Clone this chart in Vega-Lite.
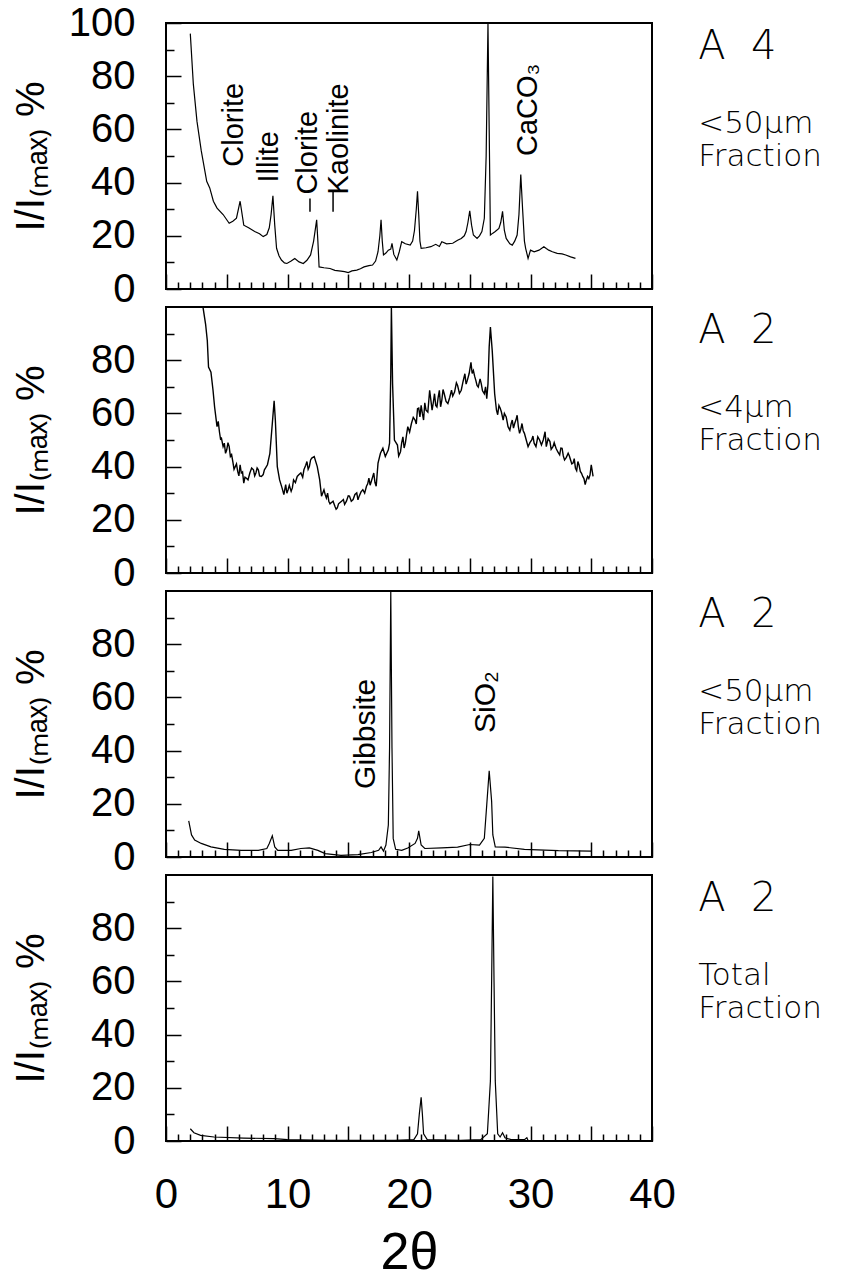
{
"$schema": "https://vega.github.io/schema/vega-lite/v6.json",
"padding": {"left": 10, "top": 2, "right": 5, "bottom": 5},
"background": "white",
"bounds": "flush",
"spacing": 18,
"config": {
  "view": {"stroke": "black", "strokeWidth": 2},
  "axis": {"domain": false, "grid": false, "tickColor": "black", "tickWidth": 1.5, "labelColor": "black", "titleColor": "black", "labelFont": "Liberation Sans", "titleFont": "Liberation Sans", "labelFontWeight": "normal", "titleFontWeight": "normal", "labelOverlap": false, "labelFlush": false, "labelBound": false},
  "text": {"font": "Liberation Sans", "color": "black"}
},
"datasets": {
  "p1": [{"t":2.0,"v":96},{"t":2.25,"v":77},{"t":2.55,"v":63},{"t":2.9,"v":52},{"t":3.35,"v":40.5},{"t":3.6,"v":38},{"t":3.9,"v":33},{"t":4.2,"v":30.4},{"t":4.7,"v":28},{"t":5.2,"v":24.7},{"t":5.5,"v":25.5},{"t":5.8,"v":26.6},{"t":6.1,"v":33},{"t":6.4,"v":24},{"t":6.8,"v":23},{"t":7.3,"v":21.6},{"t":7.7,"v":20.8},{"t":8.0,"v":19.7},{"t":8.3,"v":20.5},{"t":8.5,"v":23},{"t":8.65,"v":28},{"t":8.8,"v":35},{"t":8.95,"v":24},{"t":9.1,"v":15.3},{"t":9.3,"v":12.5},{"t":9.5,"v":10.9},{"t":9.75,"v":9.8},{"t":9.95,"v":9.6},{"t":10.3,"v":10.5},{"t":10.6,"v":11.5},{"t":10.95,"v":10.2},{"t":11.3,"v":9.6},{"t":11.6,"v":10.8},{"t":11.9,"v":12.8},{"t":12.15,"v":18},{"t":12.4,"v":26},{"t":12.5,"v":18},{"t":12.6,"v":8.3},{"t":13.0,"v":8},{"t":13.5,"v":7.7},{"t":13.9,"v":7},{"t":14.4,"v":6.7},{"t":14.7,"v":6.5},{"t":15.0,"v":6.2},{"t":15.3,"v":6.8},{"t":15.7,"v":7.1},{"t":16.0,"v":7.6},{"t":16.3,"v":8.3},{"t":16.7,"v":8.8},{"t":17.0,"v":9},{"t":17.25,"v":10.5},{"t":17.45,"v":14},{"t":17.6,"v":20},{"t":17.7,"v":26},{"t":17.8,"v":18},{"t":17.9,"v":12.8},{"t":18.1,"v":13.5},{"t":18.3,"v":14.6},{"t":18.5,"v":15},{"t":18.6,"v":17.2},{"t":18.75,"v":13},{"t":19.0,"v":10.9},{"t":19.2,"v":14},{"t":19.4,"v":17.8},{"t":19.7,"v":17},{"t":20.1,"v":16.5},{"t":20.3,"v":18},{"t":20.45,"v":22},{"t":20.6,"v":30},{"t":20.7,"v":36.7},{"t":20.8,"v":28},{"t":20.9,"v":18},{"t":21.0,"v":15.3},{"t":21.4,"v":15.5},{"t":21.8,"v":15.9},{"t":22.2,"v":16.8},{"t":22.5,"v":16},{"t":22.7,"v":17.8},{"t":23.1,"v":17},{"t":23.6,"v":17.2},{"t":24.0,"v":18.3},{"t":24.3,"v":19},{"t":24.55,"v":20},{"t":24.7,"v":21.6},{"t":24.85,"v":25},{"t":25.0,"v":29.4},{"t":25.15,"v":24},{"t":25.3,"v":20.3},{"t":25.6,"v":19},{"t":25.8,"v":20},{"t":26.0,"v":21.6},{"t":26.2,"v":26.6},{"t":26.35,"v":50},{"t":26.5,"v":100},{"t":26.6,"v":60},{"t":26.7,"v":20.3},{"t":26.9,"v":21},{"t":27.1,"v":21.6},{"t":27.4,"v":22.8},{"t":27.55,"v":25},{"t":27.7,"v":29.2},{"t":27.85,"v":22},{"t":28.0,"v":19},{"t":28.3,"v":17},{"t":28.5,"v":16.5},{"t":28.7,"v":18},{"t":28.9,"v":20.3},{"t":29.05,"v":28},{"t":29.2,"v":43},{"t":29.35,"v":30},{"t":29.5,"v":18},{"t":29.6,"v":15.3},{"t":29.8,"v":11.5},{"t":30.0,"v":14.6},{"t":30.3,"v":14},{"t":30.7,"v":14.6},{"t":31.1,"v":15.9},{"t":31.3,"v":15.2},{"t":31.5,"v":14.6},{"t":31.8,"v":14},{"t":32.2,"v":13.4},{"t":32.6,"v":13.2},{"t":32.9,"v":12.8},{"t":33.3,"v":12.1},{"t":33.7,"v":11.5}],
  "p2": [{"t":3.05,"v":99.8},{"t":3.26,"v":93.5},{"t":3.4,"v":87.3},{"t":3.5,"v":77.4},{"t":3.7,"v":75.5},{"t":3.87,"v":68.7},{"t":4.0,"v":62.4},{"t":4.2,"v":55},{"t":4.4,"v":53},{"t":4.55,"v":51},{"t":4.7,"v":47.5},{"t":4.8,"v":48.8},{"t":5.0,"v":46.3},{"t":5.2,"v":47.5},{"t":5.3,"v":43.8},{"t":5.5,"v":41.9},{"t":5.7,"v":40},{"t":5.9,"v":38.2},{"t":6.1,"v":40.7},{"t":6.2,"v":37.6},{"t":6.4,"v":33.8},{"t":6.6,"v":35.7},{"t":6.9,"v":37.6},{"t":7.2,"v":38.8},{"t":7.4,"v":37.6},{"t":7.6,"v":38.8},{"t":7.85,"v":36.3},{"t":8.1,"v":38.8},{"t":8.35,"v":40.7},{"t":8.55,"v":45},{"t":8.75,"v":56.2},{"t":8.9,"v":64.7},{"t":9.0,"v":57.5},{"t":9.16,"v":40},{"t":9.35,"v":35},{"t":9.55,"v":32},{"t":9.7,"v":29.5},{"t":9.85,"v":33.2},{"t":10.05,"v":31.3},{"t":10.3,"v":30.7},{"t":10.5,"v":35},{"t":10.8,"v":36.3},{"t":11.1,"v":37.6},{"t":11.35,"v":38.8},{"t":11.6,"v":41.9},{"t":11.8,"v":40},{"t":12.0,"v":43.2},{"t":12.2,"v":43.8},{"t":12.45,"v":40},{"t":12.65,"v":35},{"t":12.8,"v":28.9},{"t":13.0,"v":31.3},{"t":13.2,"v":28.2},{"t":13.4,"v":27},{"t":13.6,"v":26.4},{"t":13.9,"v":25.1},{"t":14.1,"v":24.5},{"t":14.3,"v":26.4},{"t":14.6,"v":27.6},{"t":14.85,"v":27},{"t":15.1,"v":28.9},{"t":15.4,"v":27.6},{"t":15.7,"v":30.1},{"t":15.9,"v":28.9},{"t":16.2,"v":31.3},{"t":16.5,"v":32.6},{"t":16.7,"v":35.7},{"t":16.9,"v":34.5},{"t":17.1,"v":37.6},{"t":17.3,"v":32.6},{"t":17.45,"v":41.3},{"t":17.65,"v":45},{"t":17.85,"v":46.9},{"t":18.05,"v":43.8},{"t":18.3,"v":46.3},{"t":18.4,"v":48.8},{"t":18.5,"v":75},{"t":18.55,"v":100},{"t":18.65,"v":71},{"t":18.8,"v":50},{"t":19.05,"v":48.1},{"t":19.3,"v":45.6},{"t":19.5,"v":51.2},{"t":19.7,"v":48.8},{"t":19.9,"v":55},{"t":20.2,"v":56.2},{"t":20.5,"v":57.5},{"t":20.7,"v":61.8},{"t":20.9,"v":58.7},{"t":21.0,"v":63},{"t":21.2,"v":57.5},{"t":21.4,"v":61.2},{"t":21.7,"v":68.7},{"t":21.9,"v":61.2},{"t":22.1,"v":67.4},{"t":22.3,"v":62.4},{"t":22.5,"v":68.7},{"t":22.7,"v":64.9},{"t":22.9,"v":67.4},{"t":23.2,"v":63.7},{"t":23.5,"v":68.7},{"t":23.75,"v":68},{"t":24.0,"v":70.5},{"t":24.3,"v":68.7},{"t":24.6,"v":74.9},{"t":24.8,"v":72.4},{"t":25.1,"v":79.2},{"t":25.3,"v":76.1},{"t":25.5,"v":72.4},{"t":25.7,"v":69.9},{"t":25.95,"v":71.1},{"t":26.2,"v":67.4},{"t":26.4,"v":65.5},{"t":26.5,"v":71.1},{"t":26.6,"v":85},{"t":26.7,"v":92.5},{"t":26.85,"v":83.6},{"t":27.05,"v":67.4},{"t":27.2,"v":61.2},{"t":27.4,"v":63},{"t":27.6,"v":60.6},{"t":27.75,"v":57.5},{"t":28.0,"v":58.7},{"t":28.3,"v":53.7},{"t":28.5,"v":57.5},{"t":28.7,"v":56.2},{"t":28.9,"v":59.3},{"t":29.1,"v":52.5},{"t":29.3,"v":56.2},{"t":29.5,"v":52.5},{"t":29.8,"v":47.5},{"t":30.1,"v":50},{"t":30.3,"v":48.8},{"t":30.6,"v":51.2},{"t":30.9,"v":48.1},{"t":31.2,"v":53.1},{"t":31.3,"v":47.5},{"t":31.6,"v":49.4},{"t":31.85,"v":47.5},{"t":32.1,"v":46.9},{"t":32.4,"v":44.4},{"t":32.6,"v":46.9},{"t":32.8,"v":42.5},{"t":33.1,"v":45},{"t":33.3,"v":42.5},{"t":33.5,"v":41.3},{"t":33.7,"v":39.4},{"t":33.9,"v":41.9},{"t":34.1,"v":38.2},{"t":34.3,"v":36.3},{"t":34.5,"v":33.2},{"t":34.7,"v":36.3},{"t":34.9,"v":36.9},{"t":35.0,"v":40.7},{"t":35.15,"v":36.3},
    {"t":4.3,"v":57},{"t":4.5,"v":50},{"t":4.9,"v":45},{"t":5.1,"v":49},{"t":5.4,"v":44.5},{"t":5.6,"v":39},{"t":5.8,"v":41},{"t":6.0,"v":36.5},{"t":6.3,"v":38},{"t":6.5,"v":36},{"t":6.75,"v":35},{"t":7.05,"v":39.5},{"t":7.3,"v":36.5},{"t":7.5,"v":39.5},{"t":7.7,"v":36.5},{"t":8.0,"v":37},{"t":8.2,"v":39.5},
    {"t":9.95,"v":30},{"t":10.15,"v":33},{"t":10.4,"v":32},{"t":10.65,"v":34},{"t":10.95,"v":37},{"t":11.25,"v":36},{"t":11.5,"v":40.5},{"t":11.7,"v":39},{"t":11.9,"v":42.5},{"t":13.1,"v":29.5},{"t":13.3,"v":30},{"t":13.5,"v":26},{"t":13.75,"v":27},{"t":14.0,"v":24},{"t":14.2,"v":26},{"t":14.45,"v":27},{"t":14.7,"v":25.8},{"t":15.0,"v":29},{"t":15.25,"v":27},{"t":15.55,"v":29.5},{"t":15.8,"v":27.5},{"t":16.05,"v":30.5},{"t":16.35,"v":30},{"t":16.6,"v":33.5},{"t":16.8,"v":33},{"t":17.0,"v":36},{"t":17.2,"v":34},
    {"t":19.15,"v":44},{"t":19.4,"v":49},{"t":19.6,"v":47},{"t":19.8,"v":52},{"t":20.05,"v":53},{"t":20.35,"v":58.5},{"t":20.6,"v":56},{"t":20.8,"v":62},{"t":21.1,"v":60},{"t":21.3,"v":64},{"t":21.55,"v":60.5},{"t":21.8,"v":65},{"t":22.0,"v":64},{"t":22.2,"v":63},{"t":22.4,"v":66},{"t":22.6,"v":62.5},{"t":22.8,"v":69},{"t":23.05,"v":64.5},{"t":23.35,"v":66},{"t":23.6,"v":66.5},{"t":23.9,"v":71.5},{"t":24.15,"v":67.5},{"t":24.45,"v":72},{"t":24.7,"v":71},{"t":24.95,"v":75},{"t":25.2,"v":75},{"t":25.4,"v":74},{"t":25.6,"v":70.5},{"t":25.85,"v":73},{"t":26.05,"v":68.5},{"t":26.3,"v":70},{"t":27.3,"v":59.5},{"t":27.5,"v":62},{"t":27.85,"v":60},{"t":28.15,"v":55},{"t":28.4,"v":56},{"t":28.6,"v":54.5},{"t":28.8,"v":57.5},{"t":29.0,"v":55},{"t":29.2,"v":54},{"t":29.4,"v":53.5},{"t":29.65,"v":50},{"t":29.95,"v":49},{"t":30.2,"v":51.5},{"t":30.45,"v":47.5},{"t":30.75,"v":50},{"t":31.05,"v":50},{"t":31.45,"v":50.5},{"t":31.7,"v":46.5},{"t":31.95,"v":49},{"t":32.25,"v":45.5},{"t":32.5,"v":47},{"t":32.7,"v":44},{"t":32.95,"v":43.5},{"t":33.2,"v":44},{"t":33.4,"v":41},{"t":33.6,"v":43},{"t":33.8,"v":38.5},{"t":34.0,"v":40.5},{"t":34.2,"v":37.5},{"t":34.4,"v":35.5},{"t":34.6,"v":35},{"t":34.8,"v":35.5}],
  "p3": [{"t":1.87,"v":13.6},{"t":2.1,"v":8.3},{"t":2.36,"v":6.4},{"t":2.9,"v":5.1},{"t":3.7,"v":3.8},{"t":4.8,"v":2.9},{"t":6.2,"v":2.5},{"t":7.6,"v":2.5},{"t":8.3,"v":3.2},{"t":8.5,"v":5.1},{"t":8.75,"v":8.0},{"t":8.95,"v":3.8},{"t":9.2,"v":2.5},{"t":10.3,"v":2.5},{"t":11.1,"v":3.2},{"t":11.8,"v":3.4},{"t":12.5,"v":2.5},{"t":13.1,"v":1.3},{"t":14.4,"v":0.6},{"t":15.8,"v":0.9},{"t":16.9,"v":1.7},{"t":17.5,"v":2.5},{"t":17.7,"v":3.8},{"t":17.9,"v":2.2},{"t":18.1,"v":4.5},{"t":18.3,"v":12},{"t":18.4,"v":41},{"t":18.5,"v":100},{"t":18.6,"v":41},{"t":18.7,"v":7},{"t":18.9,"v":2.9},{"t":19.4,"v":2.5},{"t":19.9,"v":3.4},{"t":20.5,"v":5.1},{"t":20.7,"v":7},{"t":20.8,"v":9.8},{"t":21.0,"v":4.5},{"t":21.3,"v":3.2},{"t":22.7,"v":3.4},{"t":24.0,"v":3.7},{"t":25.0,"v":4.7},{"t":25.8,"v":4.5},{"t":26.2,"v":7},{"t":26.4,"v":19.7},{"t":26.6,"v":32.4},{"t":26.8,"v":21},{"t":26.9,"v":8.3},{"t":27.1,"v":3.8},{"t":27.9,"v":3.7},{"t":29.5,"v":2.9},{"t":32.3,"v":2.4},{"t":35.0,"v":2.2}],
  "p4": [{"t":2.0,"v":4.6},{"t":2.3,"v":3.1},{"t":2.85,"v":2.1},{"t":3.95,"v":1.5},{"t":6.4,"v":1.1},{"t":8.9,"v":0.9},{"t":10,"v":0.5},{"t":13.3,"v":0.2},{"t":18.8,"v":0.2},{"t":20.4,"v":0.5},{"t":20.7,"v":2.7},{"t":20.85,"v":10.2},{"t":21.0,"v":16.4},{"t":21.1,"v":10.2},{"t":21.2,"v":2.7},{"t":21.5,"v":0.5},{"t":24.25,"v":0.2},{"t":25.9,"v":0.5},{"t":26.45,"v":2.7},{"t":26.7,"v":22.6},{"t":26.8,"v":59.7},{"t":26.9,"v":99.4},{"t":27.0,"v":59.7},{"t":27.1,"v":22.6},{"t":27.3,"v":2.7},{"t":27.5,"v":1.5},{"t":27.7,"v":3.1},{"t":27.9,"v":1.2},{"t":28.4,"v":0.5},{"t":29.5,"v":0.5},{"t":29.7,"v":1.2},{"t":29.8,"v":0.2},{"t":31.1,"v":0.1},{"t":35,"v":0.1}],
  "labels": [
    {"panel":1,"role":"id","t":43.8,"v":91,"label":"A\u00a0\u00a04"},
    {"panel":1,"role":"frac","t":43.8,"v":62,"label":"<50μm"},
    {"panel":1,"role":"frac","t":43.8,"v":49.5,"label":"Fraction"},
    {"panel":1,"role":"mineral","t":5.6,"v":46,"label":"Clorite"},
    {"panel":1,"role":"mineral","t":8.5,"v":40,"label":"Illite"},
    {"panel":1,"role":"mineral","t":11.7,"v":35.5,"label":"Clorite"},
    {"panel":1,"role":"mineral","t":14.2,"v":35.5,"label":"Kaolinite"},
    {"panel":1,"role":"mineral","t":29.8,"v":50,"label":"CaCO₃"},
    {"panel":2,"role":"id","t":43.8,"v":91,"label":"A\u00a0\u00a02"},
    {"panel":2,"role":"frac","t":43.8,"v":62,"label":"<4μm"},
    {"panel":2,"role":"frac","t":43.8,"v":49.5,"label":"Fraction"},
    {"panel":3,"role":"id","t":43.8,"v":91,"label":"A\u00a0\u00a02"},
    {"panel":3,"role":"frac","t":43.8,"v":62,"label":"<50μm"},
    {"panel":3,"role":"frac","t":43.8,"v":49.5,"label":"Fraction"},
    {"panel":3,"role":"mineral","t":16.5,"v":25.6,"label":"Gibbsite"},
    {"panel":3,"role":"mineral","t":26.3,"v":46.6,"label":"SiO₂"},
    {"panel":4,"role":"id","t":43.8,"v":91,"label":"A\u00a0\u00a02"},
    {"panel":4,"role":"frac","t":43.8,"v":62,"label":"Total"},
    {"panel":4,"role":"frac","t":43.8,"v":49.5,"label":"Fraction"}
  ],
  "pointers": [{"panel":1,"t":11.85,"v":29,"v2":34},{"panel":1,"t":13.75,"v":29,"v2":37}]
},
"vconcat": [
 {"width": 486, "height": 266,
  "resolve": {"axis": {"x": "independent", "y": "independent"}},
  "layer": [
   {"data": {"name": "p1"}, "mark": {"type": "line", "color": "black", "strokeWidth": 1.2, "clip": true},
    "encoding": {
     "x": {"field": "t", "type": "quantitative", "scale": {"domain": [0, 40], "nice": false, "zero": false}, "axis": {"orient": "bottom", "values": [0,5,10,15,20,25,30,35,40], "tickSize": -15, "labels": false, "title": null}},
     "y": {"field": "v", "type": "quantitative", "scale": {"domain": [0, 100], "nice": false}, "axis": {"orient": "left", "values": [0,20,40,60,80,100], "tickSize": -15, "labelFontSize": 40, "labelPadding": 46, "title": "I/I₍ₘₐₓ₎ %", "titleFontSize": 40, "titleX": -135, "titleY": 133, "titleAngle": 270, "titleBaseline": "middle", "titleAlign": "center"}}
    }},
   {"data": {"name": "p1"}, "mark": {"type": "point", "opacity": 0},
    "encoding": {
     "x": {"field": "t", "type": "quantitative", "scale": {"domain": [0, 40], "nice": false, "zero": false}, "axis": {"orient": "bottom", "values": [1,2,3,4,6,7,8,9,11,12,13,14,16,17,18,19,21,22,23,24,26,27,28,29,31,32,33,34,36,37,38,39], "tickSize": -7, "labels": false, "title": null}},
     "y": {"field": "v", "type": "quantitative", "scale": {"domain": [0, 100], "nice": false}, "axis": {"orient": "left", "values": [10,30,50,70,90], "tickSize": -8, "labels": false, "title": null}}
    }},
   {"data": {"name": "pointers"}, "transform": [{"filter": "datum.panel === 1"}], "mark": {"type": "rule", "color": "black", "strokeWidth": 1.5},
    "encoding": {"x": {"field": "t", "type": "quantitative", "axis": null}, "y": {"field": "v", "type": "quantitative", "axis": null}, "y2": {"field": "v2"}}},
   {"data": {"name": "labels"}, "transform": [{"filter": "datum.panel === 1 && datum.role === 'mineral'"}], "mark": {"type": "text", "angle": 270, "align": "left", "baseline": "middle", "fontSize": 29},
    "encoding": {"x": {"field": "t", "type": "quantitative", "axis": null}, "y": {"field": "v", "type": "quantitative", "axis": null}, "text": {"field": "label"}}},
   {"data": {"name": "labels"}, "transform": [{"filter": "datum.panel === 1 && datum.role === 'id'"}], "mark": {"type": "text", "align": "left", "baseline": "middle", "fontSize": 40, "font": "DejaVu Sans", "fontWeight": 200},
    "encoding": {"x": {"field": "t", "type": "quantitative", "axis": null}, "y": {"field": "v", "type": "quantitative", "axis": null}, "text": {"field": "label"}}},
   {"data": {"name": "labels"}, "transform": [{"filter": "datum.panel === 1 && datum.role === 'frac'"}], "mark": {"type": "text", "align": "left", "baseline": "middle", "fontSize": 31, "font": "DejaVu Sans", "fontWeight": 200},
    "encoding": {"x": {"field": "t", "type": "quantitative", "axis": null}, "y": {"field": "v", "type": "quantitative", "axis": null}, "text": {"field": "label"}}}
  ]},
 {"width": 486, "height": 266,
  "resolve": {"axis": {"x": "independent", "y": "independent"}},
  "layer": [
   {"data": {"name": "p2"}, "mark": {"type": "line", "color": "black", "strokeWidth": 1.4, "clip": true},
    "encoding": {
     "x": {"field": "t", "type": "quantitative", "scale": {"domain": [0, 40], "nice": false, "zero": false}, "axis": {"orient": "bottom", "values": [0,5,10,15,20,25,30,35,40], "tickSize": -15, "labels": false, "title": null}},
     "y": {"field": "v", "type": "quantitative", "scale": {"domain": [0, 100], "nice": false}, "axis": {"orient": "left", "values": [0,20,40,60,80], "tickSize": -15, "labelFontSize": 40, "labelPadding": 46, "title": "I/I₍ₘₐₓ₎ %", "titleFontSize": 40, "titleX": -135, "titleY": 133, "titleAngle": 270, "titleBaseline": "middle", "titleAlign": "center"}}
    }},
   {"data": {"name": "p2"}, "mark": {"type": "point", "opacity": 0},
    "encoding": {
     "x": {"field": "t", "type": "quantitative", "scale": {"domain": [0, 40], "nice": false, "zero": false}, "axis": {"orient": "bottom", "values": [1,2,3,4,6,7,8,9,11,12,13,14,16,17,18,19,21,22,23,24,26,27,28,29,31,32,33,34,36,37,38,39], "tickSize": -7, "labels": false, "title": null}},
     "y": {"field": "v", "type": "quantitative", "scale": {"domain": [0, 100], "nice": false}, "axis": {"orient": "left", "values": [10,30,50,70,90], "tickSize": -8, "labels": false, "title": null}}
    }},
   {"data": {"name": "labels"}, "transform": [{"filter": "datum.panel === 2 && datum.role === 'id'"}], "mark": {"type": "text", "align": "left", "baseline": "middle", "fontSize": 40, "font": "DejaVu Sans", "fontWeight": 200},
    "encoding": {"x": {"field": "t", "type": "quantitative", "axis": null}, "y": {"field": "v", "type": "quantitative", "axis": null}, "text": {"field": "label"}}},
   {"data": {"name": "labels"}, "transform": [{"filter": "datum.panel === 2 && datum.role === 'frac'"}], "mark": {"type": "text", "align": "left", "baseline": "middle", "fontSize": 31, "font": "DejaVu Sans", "fontWeight": 200},
    "encoding": {"x": {"field": "t", "type": "quantitative", "axis": null}, "y": {"field": "v", "type": "quantitative", "axis": null}, "text": {"field": "label"}}}
  ]},
 {"width": 486, "height": 266,
  "resolve": {"axis": {"x": "independent", "y": "independent"}},
  "layer": [
   {"data": {"name": "p3"}, "mark": {"type": "line", "color": "black", "strokeWidth": 1.2, "clip": true},
    "encoding": {
     "x": {"field": "t", "type": "quantitative", "scale": {"domain": [0, 40], "nice": false, "zero": false}, "axis": {"orient": "bottom", "values": [0,5,10,15,20,25,30,35,40], "tickSize": -15, "labels": false, "title": null}},
     "y": {"field": "v", "type": "quantitative", "scale": {"domain": [0, 100], "nice": false}, "axis": {"orient": "left", "values": [0,20,40,60,80], "tickSize": -15, "labelFontSize": 40, "labelPadding": 46, "title": "I/I₍ₘₐₓ₎ %", "titleFontSize": 40, "titleX": -135, "titleY": 133, "titleAngle": 270, "titleBaseline": "middle", "titleAlign": "center"}}
    }},
   {"data": {"name": "p3"}, "mark": {"type": "point", "opacity": 0},
    "encoding": {
     "x": {"field": "t", "type": "quantitative", "scale": {"domain": [0, 40], "nice": false, "zero": false}, "axis": {"orient": "bottom", "values": [1,2,3,4,6,7,8,9,11,12,13,14,16,17,18,19,21,22,23,24,26,27,28,29,31,32,33,34,36,37,38,39], "tickSize": -7, "labels": false, "title": null}},
     "y": {"field": "v", "type": "quantitative", "scale": {"domain": [0, 100], "nice": false}, "axis": {"orient": "left", "values": [10,30,50,70,90], "tickSize": -8, "labels": false, "title": null}}
    }},
   {"data": {"name": "labels"}, "transform": [{"filter": "datum.panel === 3 && datum.role === 'mineral'"}], "mark": {"type": "text", "angle": 270, "align": "left", "baseline": "middle", "fontSize": 30},
    "encoding": {"x": {"field": "t", "type": "quantitative", "axis": null}, "y": {"field": "v", "type": "quantitative", "axis": null}, "text": {"field": "label"}}},
   {"data": {"name": "labels"}, "transform": [{"filter": "datum.panel === 3 && datum.role === 'id'"}], "mark": {"type": "text", "align": "left", "baseline": "middle", "fontSize": 40, "font": "DejaVu Sans", "fontWeight": 200},
    "encoding": {"x": {"field": "t", "type": "quantitative", "axis": null}, "y": {"field": "v", "type": "quantitative", "axis": null}, "text": {"field": "label"}}},
   {"data": {"name": "labels"}, "transform": [{"filter": "datum.panel === 3 && datum.role === 'frac'"}], "mark": {"type": "text", "align": "left", "baseline": "middle", "fontSize": 31, "font": "DejaVu Sans", "fontWeight": 200},
    "encoding": {"x": {"field": "t", "type": "quantitative", "axis": null}, "y": {"field": "v", "type": "quantitative", "axis": null}, "text": {"field": "label"}}}
  ]},
 {"width": 486, "height": 266,
  "resolve": {"axis": {"x": "independent", "y": "independent"}},
  "layer": [
   {"data": {"name": "p4"}, "mark": {"type": "line", "color": "black", "strokeWidth": 1.2, "clip": true},
    "encoding": {
     "x": {"field": "t", "type": "quantitative", "scale": {"domain": [0, 40], "nice": false, "zero": false}, "axis": {"orient": "bottom", "values": [0,5,10,15,20,25,30,35,40], "tickSize": -15, "labelExpr": "datum.value % 10 === 0 ? datum.label : ''", "labelFontSize": 42, "labelPadding": 48, "title": "2θ", "titleFontSize": 52, "titleY": 86, "titleBaseline": "top"}},
     "y": {"field": "v", "type": "quantitative", "scale": {"domain": [0, 100], "nice": false}, "axis": {"orient": "left", "values": [0,20,40,60,80], "tickSize": -15, "labelFontSize": 40, "labelPadding": 46, "title": "I/I₍ₘₐₓ₎ %", "titleFontSize": 40, "titleX": -135, "titleY": 133, "titleAngle": 270, "titleBaseline": "middle", "titleAlign": "center"}}
    }},
   {"data": {"name": "p4"}, "mark": {"type": "point", "opacity": 0},
    "encoding": {
     "x": {"field": "t", "type": "quantitative", "scale": {"domain": [0, 40], "nice": false, "zero": false}, "axis": {"orient": "bottom", "values": [1,2,3,4,6,7,8,9,11,12,13,14,16,17,18,19,21,22,23,24,26,27,28,29,31,32,33,34,36,37,38,39], "tickSize": -7, "labels": false, "title": null}},
     "y": {"field": "v", "type": "quantitative", "scale": {"domain": [0, 100], "nice": false}, "axis": {"orient": "left", "values": [10,30,50,70,90], "tickSize": -8, "labels": false, "title": null}}
    }},
   {"data": {"name": "labels"}, "transform": [{"filter": "datum.panel === 4 && datum.role === 'id'"}], "mark": {"type": "text", "align": "left", "baseline": "middle", "fontSize": 40, "font": "DejaVu Sans", "fontWeight": 200},
    "encoding": {"x": {"field": "t", "type": "quantitative", "axis": null}, "y": {"field": "v", "type": "quantitative", "axis": null}, "text": {"field": "label"}}},
   {"data": {"name": "labels"}, "transform": [{"filter": "datum.panel === 4 && datum.role === 'frac'"}], "mark": {"type": "text", "align": "left", "baseline": "middle", "fontSize": 31, "font": "DejaVu Sans", "fontWeight": 200},
    "encoding": {"x": {"field": "t", "type": "quantitative", "axis": null}, "y": {"field": "v", "type": "quantitative", "axis": null}, "text": {"field": "label"}}}
  ]}
]
}
